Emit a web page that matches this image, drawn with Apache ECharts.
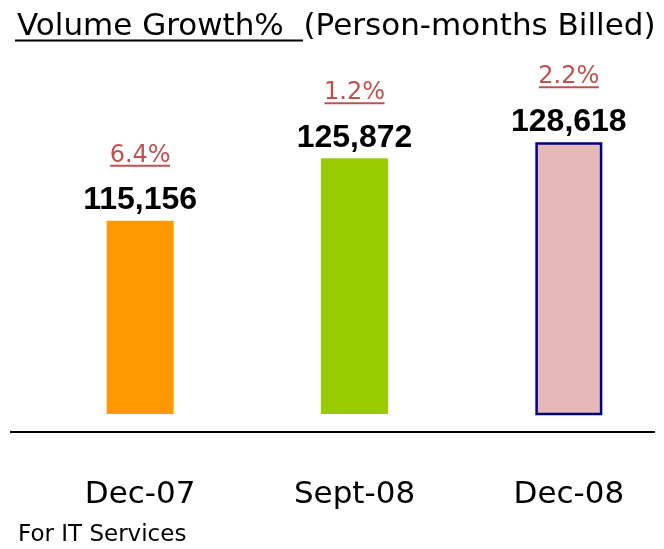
<!DOCTYPE html>
<html><head><meta charset="utf-8">
<script src="https://cdn.jsdelivr.net/npm/echarts@6/dist/echarts.min.js"></script>
<style>html,body{margin:0;padding:0;background:#fff}#c{width:664px;height:549px}</style>
</head><body><div id="c"></div>
<script>
var categories = ['Dec-07', 'Sept-08', 'Dec-08'];
var volumes = [115156, 125872, 128618];
var growthLabels = ['6.4%', '1.2%', '2.2%'];
var titleText = 'Volume Growth%  (Person-months Billed)';
var footerText = 'For IT Services';

var barColors = ['#ff9900', '#99cc00', '#e6b8b7'];
var FONT = "'DejaVu Sans', sans-serif";

var chart = echarts.init(document.getElementById('c'), null, {renderer: 'canvas'});
var seriesData = volumes.map(function (v, i) {
  var item = {value: v, itemStyle: {color: barColors[i]}};
  if (i === 2) { item.itemStyle.borderColor = '#000080'; item.itemStyle.borderWidth = 2.5; }
  return item;
});
chart.setOption({
  animation: false,
  title: [
    {text: titleText, left: 12, top: 6,
     textStyle: {fontFamily: FONT, fontSize: 31, fontWeight: 'normal', color: '#000'}},
    {text: footerText, left: 13, top: 519,
     textStyle: {fontFamily: FONT, fontSize: 23, fontWeight: 'normal', color: '#000'}}
  ],
  graphic: [
    {type: 'line', shape: {x1: 15, y1: 40.5, x2: 303, y2: 40.5}, style: {stroke: '#000', lineWidth: 2}},
    {type: 'line', shape: {x1: 10, y1: 432, x2: 655, y2: 432}, style: {stroke: '#000', lineWidth: 2}}
  ],
  grid: {left: 33, width: 643, top: 76, bottom: 135, outerBoundsMode: 'none', containLabel: false},
  xAxis: {
    type: 'category', data: categories, offset: 18,
    axisLine: {show: false}, axisTick: {show: false},
    axisLabel: {margin: 47, fontFamily: FONT, fontSize: 31, color: '#000'}
  },
  yAxis: {type: 'value', min: 82000, max: 140000, show: false, splitLine: {show: false}},
  series: [{
    type: 'bar', data: seriesData, barWidth: 67,
    label: {
      show: true, position: 'top', distance: 20,
      formatter: function (p) {
        return '{g|' + growthLabels[p.dataIndex] + '}\n{u|}\n{v|' + p.value.toLocaleString('en-US') + '}';
      },
      rich: {
        g: {fontFamily: FONT, fontSize: 24, color: '#c0504d', lineHeight: 19},
        u: {width: 60, height: 2, backgroundColor: '#c0504d', lineHeight: 2},
        v: {fontFamily: "'Liberation Sans', Arial, sans-serif", fontWeight: 'bold', fontSize: 32,
            color: '#000', lineHeight: 34, padding: [33, 0, 0, 0]}
      }
    }
  }]
});
</script></body></html>
